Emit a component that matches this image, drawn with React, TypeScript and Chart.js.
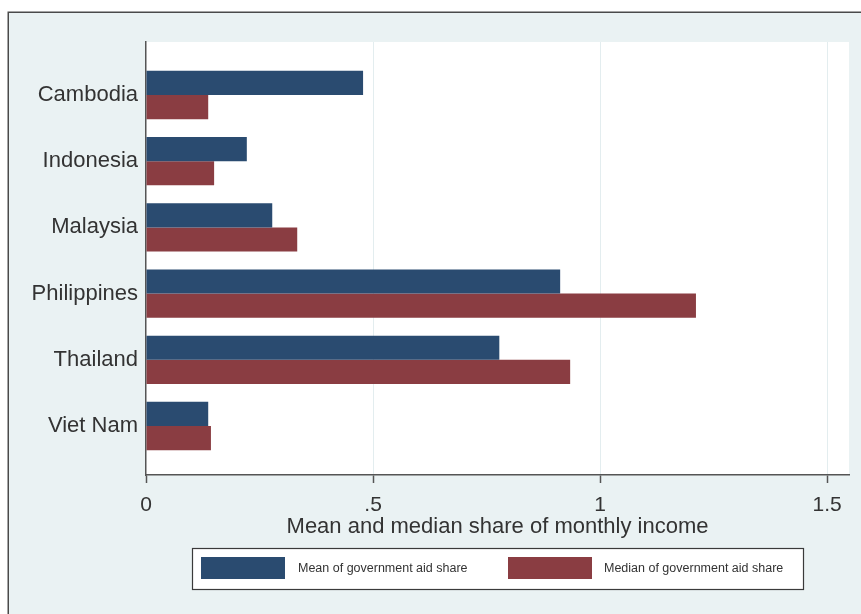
import React, { useEffect, useRef } from "react";
import { Chart, registerables } from "chart.js";
Chart.register(...registerables);

const categories = ["Cambodia", "Indonesia", "Malaysia", "Philippines", "Thailand", "Viet Nam"];
const meanShare = [0.478, 0.222, 0.278, 0.912, 0.778, 0.137];
const medianShare = [0.137, 0.15, 0.333, 1.211, 0.934, 0.143];
const xTickValues = [0, 0.5, 1, 1.5];
const xTickLabels = ["0", ".5", "1", "1.5"];
const seriesLabels = ["Mean of government aid share", "Median of government aid share"];
const seriesColors = ["#2a4b70", "#8a3d42"];
const xTitle = "Mean and median share of monthly income";

const FONT = "'Liberation Sans', Arial, Helvetica, sans-serif";

const stataPlugin = {
  id: "stataFrame",
  beforeDraw(chart: any) {
    const { ctx, chartArea: a, width, height } = chart;
    ctx.save();
    ctx.fillStyle = "#ffffff";
    ctx.fillRect(0, 0, width, height);
    ctx.fillStyle = "#eaf2f3";
    ctx.fillRect(8, 12, width, height);
    ctx.strokeStyle = "#4a4a4a";
    ctx.lineWidth = 1.5;
    ctx.strokeRect(8.25, 12.25, width + 20, height + 20);
    ctx.fillStyle = "#ffffff";
    ctx.fillRect(a.left, a.top, a.right - a.left, a.bottom - a.top);
    ctx.restore();
  },
  afterDraw(chart: any) {
    const { ctx } = chart;
    const ds = chart.data.datasets;
    ctx.save();
    const bx = 192, by = 548, bw = 611, bh = 41;
    ctx.fillStyle = "#ffffff";
    ctx.fillRect(bx, by, bw, bh);
    ctx.strokeStyle = "#3a3a3a";
    ctx.lineWidth = 1.2;
    ctx.strokeRect(bx + 0.5, by + 0.5, bw, bh);
    const swatchX = [201, 508];
    const textX = [298, 604];
    ctx.font = `12.5px ${FONT}`;
    ctx.textBaseline = "middle";
    ctx.textAlign = "left";
    ds.forEach((d: any, i: number) => {
      ctx.fillStyle = d.backgroundColor;
      ctx.fillRect(swatchX[i], 557, 84, 22);
      ctx.fillStyle = "#333333";
      ctx.fillText(d.label, textX[i], 568.5);
    });
    ctx.restore();
  },
};

export default function App() {
  const ref = useRef<HTMLCanvasElement | null>(null);
  useEffect(() => {
    document.body.style.margin = "0";
    const canvas = ref.current;
    if (!canvas) return;
    const chart = new Chart(canvas, {
      type: "bar",
      data: {
        datasets: [
          {
            label: seriesLabels[0],
            data: meanShare.map((v, i) => ({ x: v, y: i })),
            backgroundColor: seriesColors[0],
            borderWidth: 0,
            categoryPercentage: 0.73,
            barPercentage: 1,
          },
          {
            label: seriesLabels[1],
            data: medianShare.map((v, i) => ({ x: v, y: i })),
            backgroundColor: seriesColors[1],
            borderWidth: 0,
            categoryPercentage: 0.73,
            barPercentage: 1,
          },
        ],
      } as any,
      options: {
        indexAxis: "y",
        animation: false,
        responsive: false,
        devicePixelRatio: 1,
        layout: { padding: { top: 42, right: 12, left: 0, bottom: 0 } },
        plugins: { legend: { display: false }, tooltip: { enabled: false } },
        scales: {
          x: {
            type: "linear",
            position: "bottom",
            min: 0,
            max: 1.548,
            afterBuildTicks: (s: any) => {
              s.ticks = xTickValues.map((v) => ({ value: v }));
            },
            afterFit: (s: any) => {
              s.height = 139;
            },
            ticks: {
              callback: (v: any) => {
                const k = xTickValues.indexOf(Number(v));
                return k >= 0 ? xTickLabels[k] : "";
              },
              color: "#333333",
              font: { family: FONT, size: 21 },
              padding: 10,
              maxRotation: 0,
              autoSkip: false,
            },
            grid: {
              color: (c: any) => (c.tick && c.tick.value === 0 ? "rgba(0,0,0,0)" : "#e3edef"),
              lineWidth: 1,
              drawTicks: true,
              tickLength: 8,
              tickColor: "#555555",
              tickWidth: 1.5,
            },
            border: { display: true, color: "#555555", width: 1.5 },
            title: {
              display: true,
              text: xTitle,
              color: "#333333",
              font: { family: FONT, size: 22 },
              padding: { top: 0, bottom: 74 },
            },
          },
          y: {
            type: "linear",
            position: "left",
            offset: false,
            min: -0.8,
            max: 5.74,
            reverse: true,
            afterBuildTicks: (s: any) => {
              s.ticks = categories.map((_, i) => ({ value: i }));
            },
            afterFit: (s: any) => {
              s.width = 146;
            },
            ticks: {
              callback: (v: any) => categories[Number(v)] ?? "",
              color: "#333333",
              font: { family: FONT, size: 22 },
              padding: 8,
              autoSkip: false,
            },
            grid: { display: false, drawTicks: false, offset: false },
            border: { display: true, color: "#555555", width: 1.5 },
          },
        },
      } as any,
      plugins: [stataPlugin],
    });
    return () => chart.destroy();
  }, []);
  return <canvas ref={ref} width={861} height={614} style={{ display: "block" }} />;
}
